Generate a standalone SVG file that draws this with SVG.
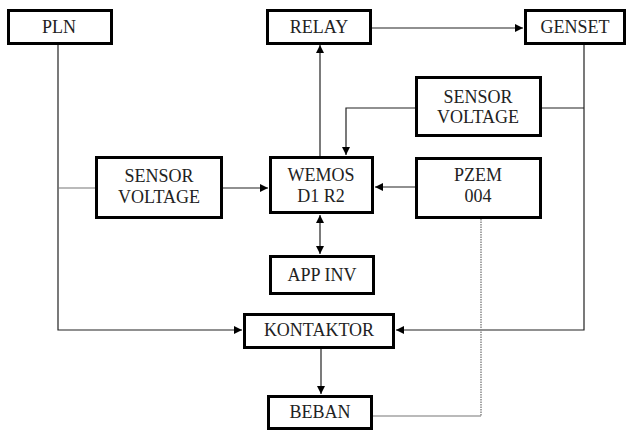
<svg xmlns="http://www.w3.org/2000/svg" width="628" height="432" viewBox="0 0 628 432">
<defs>
<style>
.box{fill:#fff;stroke:#000;stroke-width:3}
.t{font-family:"Liberation Serif","Times New Roman",serif;font-size:18px;fill:#222;text-anchor:middle}
.c{fill:none;stroke:#222;stroke-width:1.2}
.g{fill:none;stroke:#777;stroke-width:1.2}
.d{fill:none;stroke:#888;stroke-width:1.5;stroke-dasharray:1.5 1}
</style>
<marker id="ah" viewBox="0 0 10 10" refX="10" refY="5" markerWidth="8" markerHeight="8" markerUnits="userSpaceOnUse" orient="auto-start-reverse">
<path d="M0,0 L10,5 L0,10 Z" fill="#000"/>
</marker>
</defs>
<g id="connectors">
<path class="c" d="M58,44 V330 H242" marker-end="url(#ah)"/>
<path class="g" d="M58,188 H95"/>
<path class="c" d="M223,188 H268" marker-end="url(#ah)"/>
<path class="c" d="M415,187 H375" marker-end="url(#ah)"/>
<path class="c" d="M320,156 V45" marker-end="url(#ah)"/>
<path class="c" d="M372,28 H523" marker-end="url(#ah)"/>
<path class="c" d="M584,45 V330 H396" marker-end="url(#ah)"/>
<path class="c" d="M542,108 H584"/>
<path class="c" d="M415,108 H346 V155" marker-end="url(#ah)"/>
<path class="c" d="M320,215 V254" marker-start="url(#ah)" marker-end="url(#ah)"/>
<path class="c" d="M321,349 V394" marker-end="url(#ah)"/>
<path class="d" d="M481,219 V416"/>
<path class="g" d="M481,416 H373"/>
</g>
<g id="pln"><rect class="box" x="8.5" y="10.5" width="103" height="33"/><text class="t" x="59" y="33">PLN</text></g>
<g id="relay"><rect class="box" x="267.5" y="10.5" width="103" height="33"/><text class="t" x="319" y="33">RELAY</text></g>
<g id="genset"><rect class="box" x="525.5" y="10.5" width="99" height="33"/><text class="t" x="575" y="33">GENSET</text></g>
<g id="sensor-voltage-right"><rect class="box" x="416.5" y="77.5" width="124" height="58"/><text class="t" x="478" y="103">SENSOR</text><text class="t" x="478" y="123">VOLTAGE</text></g>
<g id="sensor-voltage-left"><rect class="box" x="96.5" y="157.5" width="125" height="60"/><text class="t" x="159" y="182">SENSOR</text><text class="t" x="159" y="203">VOLTAGE</text></g>
<g id="wemos"><rect class="box" x="270.5" y="157.5" width="102" height="55"/><text class="t" x="321" y="181">WEMOS</text><text class="t" x="321" y="202">D1 R2</text></g>
<g id="pzem"><rect class="box" x="416.5" y="158.5" width="124" height="59"/><text class="t" x="478" y="181">PZEM</text><text class="t" x="478" y="202">004</text></g>
<g id="app-inv"><rect class="box" x="270.5" y="256.5" width="103" height="37"/><text class="t" x="322" y="281">APP INV</text></g>
<g id="kontaktor"><rect class="box" x="244.5" y="314.5" width="149" height="33"/><text class="t" x="319" y="336">KONTAKTOR</text></g>
<g id="beban"><rect class="box" x="268.5" y="396.5" width="103" height="32"/><text class="t" x="320" y="418">BEBAN</text></g>
</svg>
